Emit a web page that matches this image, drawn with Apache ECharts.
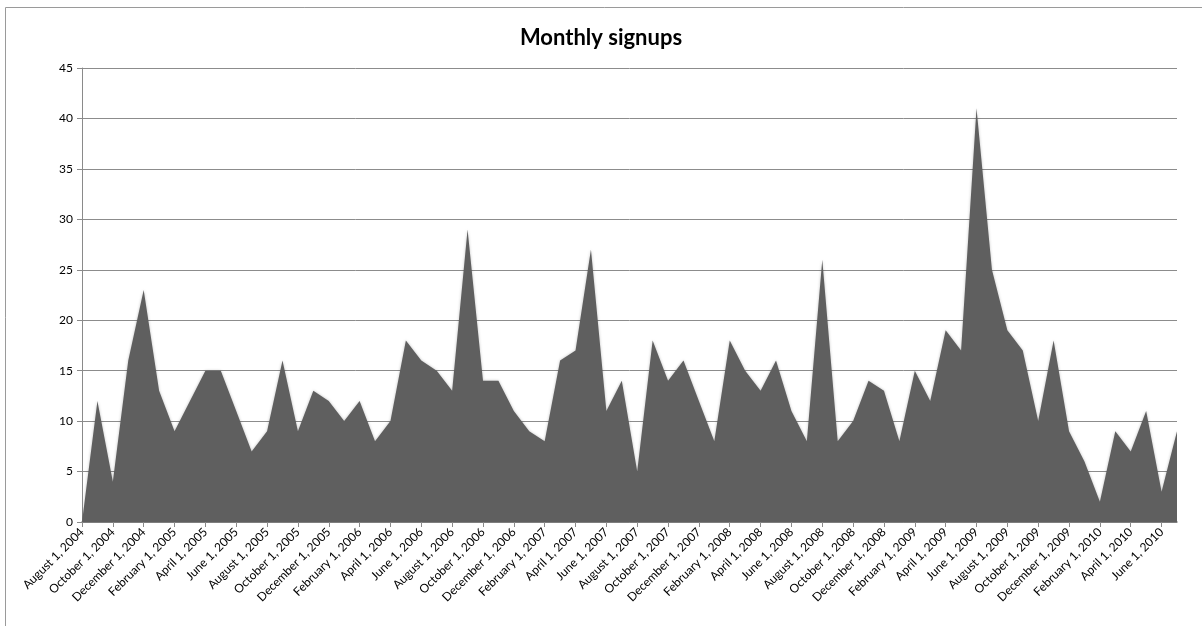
<!DOCTYPE html>
<html>
<head>
<meta charset="utf-8">
<script src="https://cdn.jsdelivr.net/npm/echarts@6/dist/echarts.min.js"></script>
<style>
  html, body { margin: 0; padding: 0; background: #fff; }
  #chart { width: 1202px; height: 626px; }
</style>
</head>
<body>
<div id="chart"></div>
<script>
// month start dates, one per point
const months = [
  'August 1, 2004', 'September 1, 2004', 'October 1, 2004', 'November 1, 2004', 'December 1, 2004',
  'January 1, 2005', 'February 1, 2005', 'March 1, 2005', 'April 1, 2005', 'May 1, 2005', 'June 1, 2005',
  'July 1, 2005', 'August 1, 2005', 'September 1, 2005', 'October 1, 2005', 'November 1, 2005', 'December 1, 2005',
  'January 1, 2006', 'February 1, 2006', 'March 1, 2006', 'April 1, 2006', 'May 1, 2006', 'June 1, 2006',
  'July 1, 2006', 'August 1, 2006', 'September 1, 2006', 'October 1, 2006', 'November 1, 2006', 'December 1, 2006',
  'January 1, 2007', 'February 1, 2007', 'March 1, 2007', 'April 1, 2007', 'May 1, 2007', 'June 1, 2007',
  'July 1, 2007', 'August 1, 2007', 'September 1, 2007', 'October 1, 2007', 'November 1, 2007', 'December 1, 2007',
  'January 1, 2008', 'February 1, 2008', 'March 1, 2008', 'April 1, 2008', 'May 1, 2008', 'June 1, 2008',
  'July 1, 2008', 'August 1, 2008', 'September 1, 2008', 'October 1, 2008', 'November 1, 2008', 'December 1, 2008',
  'January 1, 2009', 'February 1, 2009', 'March 1, 2009', 'April 1, 2009', 'May 1, 2009', 'June 1, 2009',
  'July 1, 2009', 'August 1, 2009', 'September 1, 2009', 'October 1, 2009', 'November 1, 2009', 'December 1, 2009',
  'January 1, 2010', 'February 1, 2010', 'March 1, 2010', 'April 1, 2010', 'May 1, 2010', 'June 1, 2010',
  'July 1, 2010'
]

const signups = [
  0, 12, 4, 16, 23,
  13, 9, 12, 15, 15, 11, 7, 9, 16, 9, 13, 12,
  10, 12, 8, 10, 18, 16, 15, 13, 29, 14, 14, 11,
  9, 8, 16, 17, 27, 11, 14, 5, 18, 14, 16, 12,
  8, 18, 15, 13, 16, 11, 8, 26, 8, 10, 14, 13,
  8, 15, 12, 19, 17, 41, 25, 19, 17, 10, 18, 9,
  6, 2, 9, 7, 11, 3, 9
]

const yMin = 0
const yMax = 45
const yStep = 5

const font = 'Lato, "Open Sans", sans-serif'

const chart = echarts.init(document.getElementById('chart'))
chart.setOption({
  animation: false,
  title: {
    text: 'Monthly signups',
    left: 'center',
    top: 22,
    textStyle: {
      fontFamily: font,
      fontSize: 22,
      fontWeight: 'bold',
      color: '#000'
    }
  },
  graphic: [{
    type: 'rect',
    shape: { x: 5.5, y: 7.5, width: 1210, height: 640 },
    style: { fill: 'none', stroke: '#9a9a9a', lineWidth: 1 },
    silent: true
  }],
  grid: {
    left: 82,
    right: 25,
    top: 68,
    bottom: 104
  },
  xAxis: {
    type: 'category',
    boundaryGap: false,
    data: months,
    axisLine: {
      show: true,
      lineStyle: { color: '#7a7a7a', width: 1.5 }
    },
    axisTick: {
      show: true,
      interval: 1,
      length: 5,
      lineStyle: { color: '#8a8a8a' }
    },
    axisLabel: {
      interval: 1,
      rotate: 45,
      margin: 8,
      fontFamily: font,
      fontSize: 12,
      color: '#000'
    },
    splitLine: { show: false }
  },
  yAxis: {
    type: 'value',
    min: yMin,
    max: yMax,
    interval: yStep,
    axisLine: {
      show: true,
      lineStyle: { color: '#8a8a8a' }
    },
    axisTick: {
      show: true,
      length: 5,
      lineStyle: { color: '#8a8a8a' }
    },
    axisLabel: {
      margin: 9,
      fontFamily: font,
      fontSize: 12,
      color: '#000'
    },
    splitLine: {
      show: true,
      lineStyle: { color: '#8c8c8c', width: 1 }
    }
  },
  series: [{
    name: 'Signups',
    type: 'line',
    data: signups,
    symbol: 'none',
    lineStyle: { width: 0 },
    areaStyle: {
      color: '#5f5f5f',
      opacity: 1,
      shadowColor: 'rgba(0,0,0,0.25)',
      shadowBlur: 3
    }
  }]
})
</script>
</body>
</html>
